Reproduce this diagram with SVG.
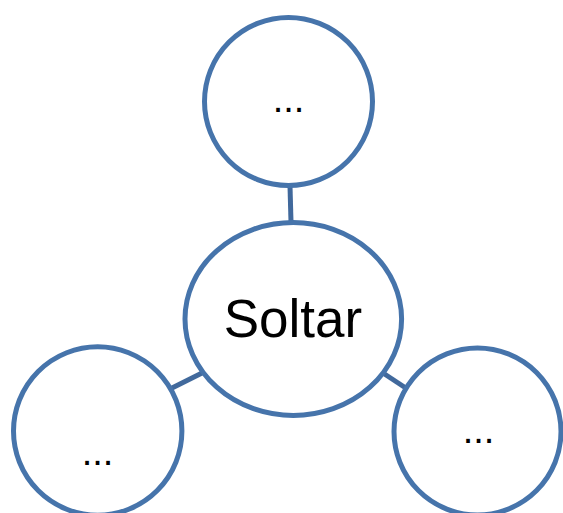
<svg xmlns="http://www.w3.org/2000/svg" width="563" height="513" viewBox="0 0 563 513">
<style>
.node{fill:#ffffff;stroke:#4674ab;stroke-width:5}
.edge{stroke:#41699c;stroke-width:5;fill:none}
.lbl{font-family:"Liberation Sans",Arial,sans-serif;fill:#000;text-anchor:middle}
</style>
<rect width="563" height="513" fill="#ffffff"/>
<g id="connectors">
<line class="edge" x1="290" y1="186" x2="291" y2="222"/>
<line class="edge" x1="171" y1="388.5" x2="202" y2="373"/>
<line class="edge" x1="383" y1="373" x2="405" y2="387.5"/>
</g>
<g id="node-top">
<circle class="node" cx="288.5" cy="101.5" r="84"/>
<text class="lbl" x="288.5" y="112" font-size="38">...</text>
</g>
<g id="node-center">
<ellipse class="node" cx="293.3" cy="319" rx="108.3" ry="96.5"/>
<text class="lbl" x="293" y="337" font-size="53">Soltar</text>
</g>
<g id="node-left">
<circle class="node" cx="97.7" cy="431" r="84.2"/>
<text class="lbl" x="97.5" y="465" font-size="38">...</text>
</g>
<g id="node-right">
<circle class="node" cx="477.5" cy="431.5" r="83.5"/>
<text class="lbl" x="478.5" y="442.5" font-size="38">...</text>
</g>
</svg>
